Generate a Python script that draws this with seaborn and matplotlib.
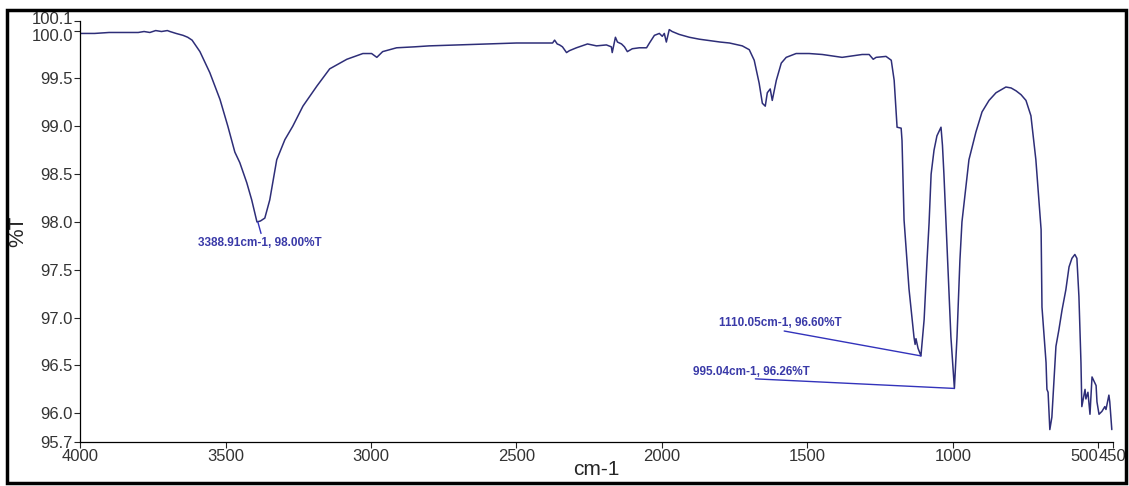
import numpy as np
import pandas as pd
import matplotlib
matplotlib.use("Agg")
import matplotlib.pyplot as plt
from matplotlib.patches import Rectangle
from matplotlib.transforms import ScaledTranslation
import seaborn as sns

# spectrum (wavenumber cm-1, %T)
wavenumber = [
    4000, 3950, 3900, 3850, 3800, 3780, 3760, 3740, 3720, 3700, 3691, 3670, 3646, 3630, 3615,
    3588, 3554, 3519, 3492, 3468, 3451, 3427, 3410, 3392, 3380, 3365, 3348, 3324, 3296, 3269,
    3234, 3186, 3142, 3083, 3028, 2998, 2980, 2960, 2912, 2850, 2800, 2700, 2600, 2500, 2455,
    2376, 2369, 2360, 2352, 2342, 2328, 2318, 2294, 2256, 2240, 2225, 2191, 2174, 2171, 2160,
    2153, 2139, 2129, 2119, 2102, 2078, 2053, 2043, 2026, 2009, 1999, 1992, 1985, 1975, 1965,
    1941, 1906, 1872, 1800, 1768, 1724, 1700, 1683, 1666, 1655, 1645, 1638, 1628, 1621, 1607,
    1590, 1573, 1539, 1494, 1449, 1381, 1312, 1288, 1274, 1264, 1230, 1212, 1202, 1192, 1178,
    1175, 1168, 1151, 1134, 1130, 1127, 1120, 1110, 1099, 1089, 1082, 1075, 1065, 1055, 1041,
    1036, 1031, 1024, 1014, 1007, 995, 986, 976, 969, 945, 921, 900, 876, 852, 818,
    800, 783, 766, 749, 732, 715, 697, 694, 680, 677, 673, 667, 660, 646, 636,
    625, 612, 601, 591, 581, 574, 567, 560, 557, 546, 543, 536, 529, 522, 508,
    505, 498, 488, 478, 474, 464, 461, 454,
]
transmittance = [
    99.97, 99.97, 99.98, 99.98, 99.98, 99.99, 99.98, 100.00, 99.99, 100.00, 99.99, 99.97, 99.95, 99.93, 99.90,
    99.78, 99.56, 99.28, 99.00, 98.73, 98.62, 98.41, 98.23, 98.00, 98.01, 98.04, 98.23, 98.65, 98.86, 99.00,
    99.21, 99.42, 99.60, 99.70, 99.76, 99.76, 99.72, 99.78, 99.82, 99.83, 99.84, 99.85, 99.86, 99.87, 99.87,
    99.87, 99.90, 99.86, 99.85, 99.83, 99.77, 99.79, 99.82, 99.86, 99.85, 99.84, 99.85, 99.83, 99.77, 99.93,
    99.88, 99.86, 99.83, 99.78, 99.81, 99.82, 99.82, 99.87, 99.95, 99.97, 99.94, 99.97, 99.88, 100.01, 99.99,
    99.96, 99.93, 99.91, 99.88, 99.87, 99.84, 99.80, 99.69, 99.45, 99.24, 99.21, 99.35, 99.39, 99.27, 99.48,
    99.66, 99.72, 99.76, 99.76, 99.75, 99.72, 99.75, 99.75, 99.70, 99.72, 99.73, 99.69, 99.48, 98.99, 98.98,
    98.85, 98.02, 97.30, 96.80, 96.72, 96.78, 96.68, 96.60, 96.98, 97.60, 97.99, 98.50, 98.75, 98.90, 98.99,
    98.80, 98.50, 98.00, 97.30, 96.80, 96.26, 96.80, 97.60, 98.00, 98.65, 98.94, 99.15, 99.27, 99.35, 99.41,
    99.40, 99.37, 99.33, 99.27, 99.11, 98.65, 97.92, 97.11, 96.53, 96.25, 96.22, 95.83, 95.96, 96.70, 96.87,
    97.08, 97.29, 97.53, 97.62, 97.66, 97.62, 97.22, 96.53, 96.07, 96.25, 96.15, 96.22, 95.99, 96.38, 96.29,
    96.12, 95.99, 96.02, 96.07, 96.04, 96.19, 96.12, 95.83,
]

# peak labels
peak_wn = [3388.91, 1110.05, 995.04]
peak_t = [98.00, 96.60, 96.26]
label_pos = [(3382, 97.78), (1803, 96.94), (1892, 96.43)]
label_ha = ["center", "left", "left"]
leader_start = [(3378, 97.88), (1580, 96.86), (1679, 96.36)]

x_ticks = [4000, 3500, 3000, 2500, 2000, 1500, 1000, 500, 450]
y_ticks = [95.7, 96.0, 96.5, 97.0, 97.5, 98.0, 98.5, 99.0, 99.5, 100.0, 100.1]

sns.set_style("ticks")
plt.rcParams["font.family"] = ["Liberation Sans", "DejaVu Sans"]

df = pd.DataFrame({"cm-1": wavenumber, "%T": transmittance})

fig = plt.figure(figsize=(11.29, 4.86), dpi=100)
ax = fig.add_axes([0.0709, 0.0905, 0.9149, 0.8663])

sns.lineplot(data=df, x="cm-1", y="%T", ax=ax, color="#2e2e78", linewidth=1.1, sort=False)

ax.set_xlim(4000, 450)
ax.set_ylim(95.7, 100.1)
ax.set_xticks(x_ticks)
ax.set_xticklabels([str(t) for t in x_ticks])
ax.set_yticks(y_ticks)
ax.set_yticklabels([f"{t:.1f}" for t in y_ticks])
ax.tick_params(axis="both", labelsize=12, labelcolor="#333333", length=4, width=0.8, pad=1)
# the 500 label sits to the left of its tick so it runs into 450
ax.get_xticklabels()[7].set_ha("right")
# top two y labels are squeezed apart a little, as in the original
ylabels = ax.get_yticklabels()
ylabels[-1].set_transform(ylabels[-1].get_transform() + ScaledTranslation(0, 2 / 72, fig.dpi_scale_trans))
ylabels[-2].set_transform(ylabels[-2].get_transform() + ScaledTranslation(0, -3 / 72, fig.dpi_scale_trans))

sns.despine(ax=ax)
for s in ["left", "bottom"]:
    ax.spines[s].set_linewidth(0.9)
    ax.spines[s].set_color("black")

ax.set_xlabel("cm-1", fontsize=15, labelpad=-3)
ax.set_ylabel("%T", fontsize=15)
ax.yaxis.set_label_coords(-0.051, 0.5)

for wn, t, (tx, ty), ha, (sx, sy) in zip(peak_wn, peak_t, label_pos, label_ha, leader_start):
    ax.annotate("", xy=(wn, t), xytext=(sx, sy),
                arrowprops=dict(arrowstyle="-", color="#3333bb", lw=1.0, shrinkA=0, shrinkB=0))
    ax.text(tx, ty, f"{wn:.2f}cm-1, {t:.2f}%T", ha=ha, va="center",
            fontsize=8.5, fontweight="bold", color="#3a3aa8")

fig.patches.append(Rectangle((0.006, 0.006), 0.991, 0.973, transform=fig.transFigure,
                             fill=False, linewidth=2.5, edgecolor="black", zorder=10))

fig.savefig("out.png", dpi=100)
